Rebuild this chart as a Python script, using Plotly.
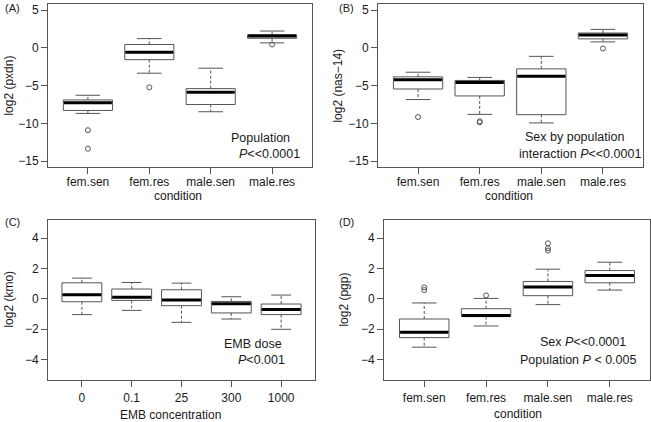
import plotly.graph_objects as go

W, H = 651, 422

# ---------------- data ----------------
conditions = ["fem.sen", "fem.res", "male.sen", "male.res"]
emb_doses = ["0", "0.1", "25", "300", "1000"]

# Panel A: log2 (pxdn)
a_lower = [-8.68, -3.36, -8.46, 0.65]
a_q1 = [-8.29, -1.57, -7.50, 1.26]
a_med = [-7.28, -0.57, -5.89, 1.57]
a_q3 = [-6.90, 0.44, -5.40, 1.74]
a_upper = [-6.28, 1.22, -2.70, 2.22]
a_out_group = [0, 0, 1, 3]
a_out_val = [-10.9, -13.35, -5.23, 0.44]

# Panel B: log2 (nas-14)
b_lower = [-6.85, -8.81, -9.94, 0.78]
b_q1 = [-5.45, -6.37, -8.85, 1.18]
b_med = [-4.23, -4.58, -3.75, 1.70]
b_q3 = [-3.84, -4.32, -2.79, 1.96]
b_upper = [-3.23, -3.92, -1.13, 2.44]
b_out_group = [0, 1, 1, 3]
b_out_val = [-9.16, -9.73, -9.86, -0.09]

# Panel C: log2 (kmo) vs EMB concentration
c_lower = [-1.05, -0.77, -1.56, -1.34, -2.02]
c_q1 = [-0.20, -0.11, -0.46, -0.94, -1.05]
c_med = [0.26, 0.09, -0.09, -0.33, -0.72]
c_q3 = [1.05, 0.64, 0.59, -0.18, -0.35]
c_upper = [1.36, 1.07, 1.03, 0.13, 0.24]
c_out_group = []
c_out_val = []

# Panel D: log2 (pgp)
d_lower = [-3.20, -1.80, -0.39, 0.57]
d_q1 = [-2.57, -1.18, 0.20, 1.05]
d_med = [-2.21, -1.10, 0.77, 1.53]
d_q3 = [-1.34, -0.66, 1.14, 1.86]
d_upper = [-0.28, 0.02, 1.95, 2.41]
d_out_group = [0, 0, 1, 2, 2, 2]
d_out_val = [0.75, 0.57, 0.22, 3.66, 3.33, 3.18]

# ---------------- styling ----------------
FONT = "Liberation Sans, Arial, Helvetica, sans-serif"
TXT = "#1a1a1a"
BOXC = "#555555"
FRAME = "#555555"
BW = 0.8     # box width
CAP = 0.4    # staple width


def px_x(p):
    return p / W


def px_y(p):
    return 1 - p / H


fig = go.Figure()


def add_panel(idx, cats, lower, q1, med, q3, upper, og, ov,
              xdom, ydom, xrange, yrange, yticks, xstand=0):
    sfx = "" if idx == 1 else str(idx)
    xa, ya = "x" + sfx, "y" + sfx
    pos = list(range(1, len(cats) + 1))
    # boxes (whiskers drawn separately, dashed like R)
    fig.add_trace(go.Box(
        x=pos, q1=q1, median=med, q3=q3, lowerfence=q1, upperfence=q3,
        width=BW, whiskerwidth=0, fillcolor="white",
        line=dict(color=BOXC, width=1), boxpoints=False,
        xaxis=xa, yaxis=ya, showlegend=False, hoverinfo="skip"))
    # dashed whiskers
    wx, wy = [], []
    for p, lo, a, b, hi in zip(pos, lower, q1, q3, upper):
        wx += [p, p, None, p, p, None]
        wy += [b, hi, None, a, lo, None]
    fig.add_trace(go.Scatter(x=wx, y=wy, mode="lines",
                             line=dict(color=BOXC, width=1, dash="3px,2px"),
                             xaxis=xa, yaxis=ya, showlegend=False, hoverinfo="skip"))
    # staples
    sx, sy = [], []
    for p, lo, hi in zip(pos, lower, upper):
        sx += [p - CAP / 2, p + CAP / 2, None, p - CAP / 2, p + CAP / 2, None]
        sy += [hi, hi, None, lo, lo, None]
    fig.add_trace(go.Scatter(x=sx, y=sy, mode="lines",
                             line=dict(color=BOXC, width=1),
                             xaxis=xa, yaxis=ya, showlegend=False, hoverinfo="skip"))
    # thick medians
    mx, my = [], []
    for p, m in zip(pos, med):
        mx += [p - BW / 2 + 0.01, p + BW / 2 - 0.01, None]
        my += [m, m, None]
    fig.add_trace(go.Scatter(x=mx, y=my, mode="lines",
                             line=dict(color="black", width=3),
                             xaxis=xa, yaxis=ya, showlegend=False, hoverinfo="skip"))
    # outliers
    if og:
        fig.add_trace(go.Scatter(
            x=[pos[g] for g in og], y=ov, mode="markers",
            marker=dict(symbol="circle-open", size=5, color=BOXC,
                        line=dict(width=1, color=BOXC)),
            xaxis=xa, yaxis=ya, showlegend=False, hoverinfo="skip"))

    common = dict(showgrid=False, zeroline=False, showline=True, mirror=True,
                  linecolor=FRAME, linewidth=1, ticks="outside", ticklen=6,
                  tickcolor=FRAME, tickwidth=1,
                  tickfont=dict(family=FONT, size=12, color=TXT))
    xkey = "xaxis" + sfx
    ykey = "yaxis" + sfx
    fig.update_layout({
        xkey: dict(domain=[px_x(xdom[0]), px_x(xdom[1])], range=xrange,
                   tickvals=pos, ticktext=cats, anchor=ya,
                   ticklabelstandoff=xstand, **common),
        ykey: dict(domain=[px_y(ydom[1]), px_y(ydom[0])], range=yrange,
                   tickvals=yticks, anchor=xa, **common),
    })


add_panel(1, conditions, a_lower, a_q1, a_med, a_q3, a_upper, a_out_group, a_out_val,
          (48, 312), (3, 167), [0.35, 4.65], [-15.8, 5.8], [-15, -10, -5, 0, 5], -3)
add_panel(2, conditions, b_lower, b_q1, b_med, b_q3, b_upper, b_out_group, b_out_val,
          (378, 643), (3, 167), [0.35, 4.65], [-15.8, 5.8], [-15, -10, -5, 0, 5], -3)
add_panel(3, emb_doses, c_lower, c_q1, c_med, c_q3, c_upper, c_out_group, c_out_val,
          (48, 315), (220, 381), [0.32, 5.68], [-5.38, 5.2], [-4, -2, 0, 2, 4])
add_panel(4, conditions, d_lower, d_q1, d_med, d_q3, d_upper, d_out_group, d_out_val,
          (384, 650), (220, 381), [0.35, 4.65], [-5.38, 5.2], [-4, -2, 0, 2, 4])

anns = []


def txt(x, y, s, size=12, angle=0, xanchor="center"):
    anns.append(dict(x=px_x(x), y=px_y(y), xref="paper", yref="paper", text=s,
                     showarrow=False, xanchor=xanchor, yanchor="middle",
                     textangle=angle, font=dict(family=FONT, size=size, color=TXT)))


# panel labels
txt(3, 7, "(A)", 11, xanchor="left")
txt(337, 7, "(B)", 11, xanchor="left")
txt(3, 222, "(C)", 11, xanchor="left")
txt(337, 222, "(D)", 11, xanchor="left")
# y titles
txt(9, 85, "log2 (pxdn)", 12, -90)
txt(338, 85, "log2 (nas\u221214)", 12, -90)
txt(9, 300, "log2 (kmo)", 12, -90)
txt(344, 300, "log2 (pgp)", 12, -90)
# x titles
txt(178, 196, "condition", 12)
txt(509, 196, "condition", 12)
txt(171, 416, "EMB concentration", 12)
txt(518, 415, "condition", 12)
# statistics
txt(260, 138, "Population", 12.5)
txt(269, 154, "<i>P</i>&lt;&lt;0.0001", 12.5)
txt(574, 137, "Sex by population", 12.5)
txt(580, 154, "interaction <i>P</i>&lt;&lt;0.0001", 12.5)
txt(253, 345, "EMB dose", 12.5)
txt(261, 361, "<i>P</i>&lt;0.001", 12.5)
txt(583, 343, "Sex <i>P</i>&lt;&lt;0.0001", 12.5)
txt(578, 361, "Population <i>P</i> &lt; 0.005", 12.5)

fig.update_layout(width=W, height=H, margin=dict(l=0, r=0, t=0, b=0),
                  paper_bgcolor="white", plot_bgcolor="white",
                  annotations=anns, showlegend=False)

fig.write_html("out.html", config={"displayModeBar": False},
               post_script="document.body.style.margin='0px';")
